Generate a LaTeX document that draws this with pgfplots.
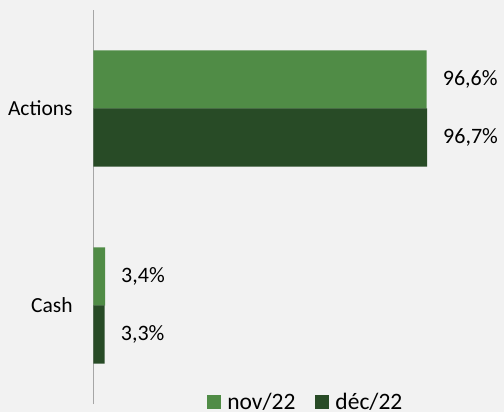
\documentclass[border=0pt]{standalone}
\usepackage{pgfplots}
\pgfplotsset{compat=1.18}
\usepackage{fontspec}
\setmainfont{Carlito}
\definecolor{bg}{HTML}{F2F2F2}
\definecolor{novc}{HTML}{508C46}
\definecolor{decc}{HTML}{284B26}
\definecolor{axgray}{HTML}{A6A6A6}
\begin{document}
\begin{tikzpicture}
\fill[bg] (0,0) rectangle (504bp,-412bp);
\useasboundingbox (0,0) rectangle (504bp,-412bp);
\begin{axis}[
  at={(93.3bp,-404bp)}, anchor=south west,
  scale only axis, width=345.1bp, height=394bp,
  xmin=0, xmax=100, ymin=-0.5, ymax=1.5,
  xbar, bar width=0.296,
  axis x line=none, axis y line*=left,
  y axis line style={draw=axgray, line width=1bp, -},
  ytick={0,1}, yticklabels={Cash,Actions}, major tick length=0,
  yticklabel style={inner sep=0pt, xshift=-20.5bp, font=\fontsize{21.5bp}{26bp}\selectfont, text=black},
  nodes near coords={\pgfmathprintnumber[use comma,fixed,fixed zerofill,precision=1,assume math mode=true]{\pgfplotspointmeta}\%},
  nodes near coords style={anchor=west, inner sep=0pt, xshift=16bp, font=\fontsize{22bp}{26bp}\selectfont, text=black},
  legend style={at={(0.613,0.005)}, anchor=center, draw=none, fill=none, legend columns=2,
    font=\fontsize{23.5bp}{28bp}\selectfont,
    nodes={inner xsep=0pt},
    /tikz/every odd column/.append style={column sep=6bp},
    /tikz/every even column/.append style={column sep=20bp}},
  legend image code/.code={\fill[#1] (0bp,-7bp) rectangle (14bp,7bp);},
]
\addplot[fill=novc, draw=none, bar shift=0.147] coordinates {(96.6,1) (3.4,0)};
\addplot[fill=decc, draw=none, bar shift=-0.147] coordinates {(96.7,1) (3.3,0)};
\legend{nov/22, déc/22}
\end{axis}
\end{tikzpicture}
\end{document}
